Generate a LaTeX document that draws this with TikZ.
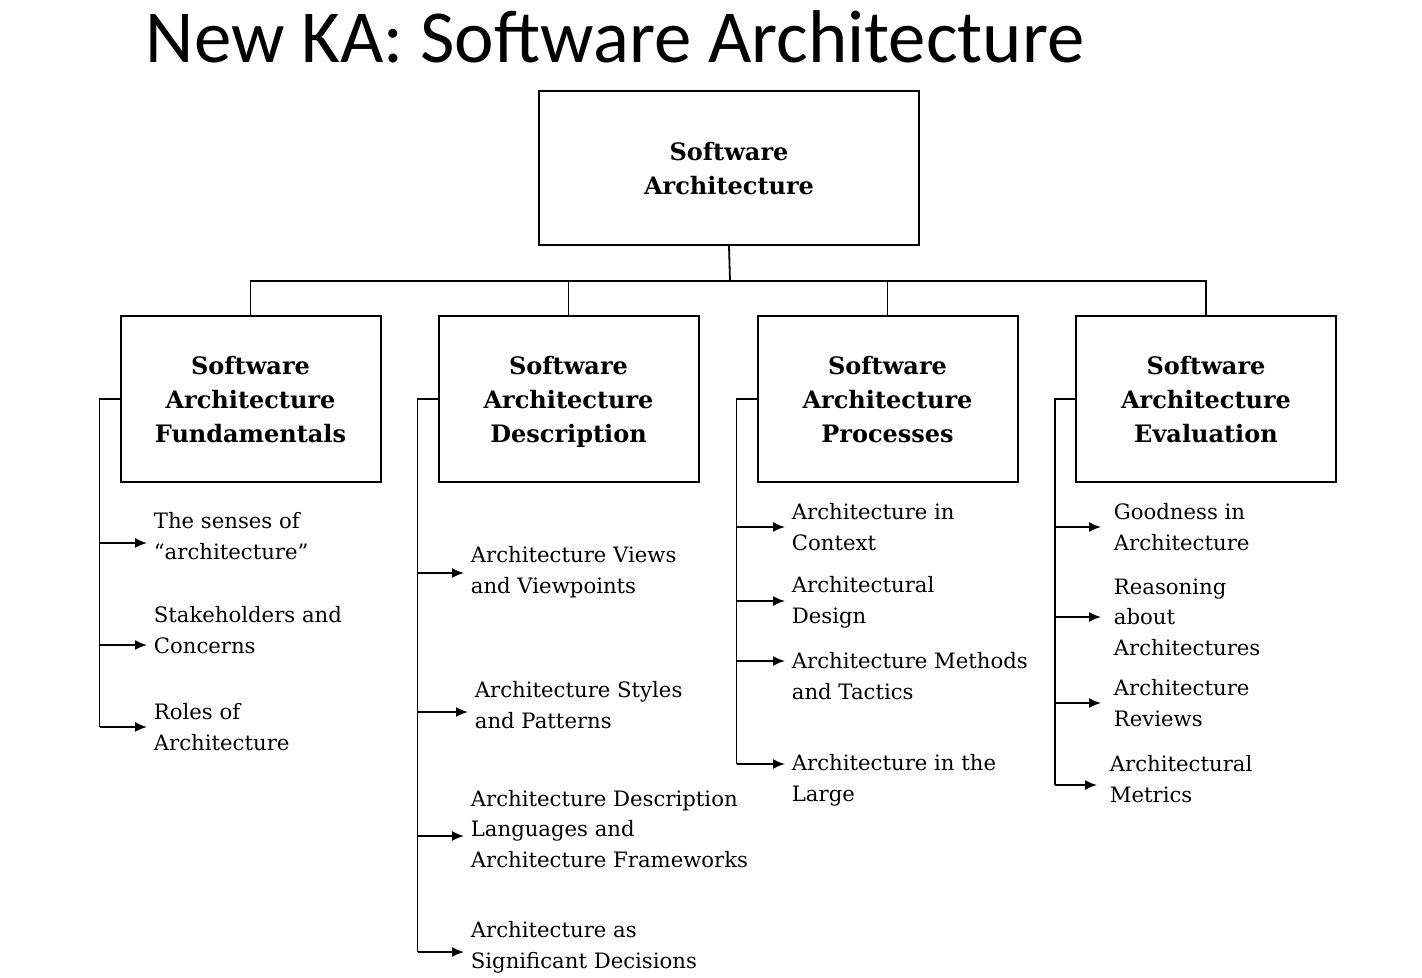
\documentclass[tikz,border=0pt]{standalone}
\usepackage{fontspec}
\setmainfont{DejaVu Serif}
\newfontfamily\titlefont{Carlito}
\usetikzlibrary{arrows.meta}

\tikzset{
	box/.style={draw, line width=1pt, minimum width=130pt, minimum height=83pt, align=center, text depth=0pt, font=\bfseries\fontsize{12}{17}\selectfont},
	item/.style={anchor=west, align=left, inner sep=0pt, font=\fontsize{10.6}{15.3}\selectfont},
	arr/.style={-{Latex[length=6pt,width=5pt]}, line width=0.9pt, shorten >=3pt}
}

\begin{document}
\begin{tikzpicture}[x=0.5pt, y=-0.5pt, line width=0.9pt]
\useasboundingbox (0,0) rectangle (1422,978);
\node[anchor=base west, inner sep=0pt, font=\titlefont\fontsize{37.4}{40}\selectfont] (title) at (145,63) {New KA: Software Architecture};
\node[box, minimum width=190pt, minimum height=77pt] (root) at (729,168) {Software\\Architecture};
\node[box] (b1) at (250.5,399) {Software\\Architecture\\Fundamentals};
\node[box] (b2) at (568.5,399) {Software\\Architecture\\Description};
\node[box] (b3) at (887.5,399) {Software\\Architecture\\Processes};
\node[box] (b4) at (1206,399) {Software\\Architecture\\Evaluation};
% tree lines
\coordinate (bus) at (730,281);
\draw (root.south) -- (bus);
\draw (b1.north) -- (b1.north |- bus) -- (b4.north |- bus) -- (b4.north);
\foreach \b in {b2,b3} \draw (\b.north) -- (\b.north |- bus);
% side bars
\foreach \b/\e in {b1/727,b2/952,b3/764,b4/785}{
	\coordinate (bar\b) at ([xshift=-10pt]\b.west);
	\draw[line join=miter] (\b.west) -- (bar\b) -- (bar\b |- 0,\e);
}
% items
\foreach \n/\tx/\ty/\ay/\txt in {1/153/536/543/{The senses of\\“architecture”}, 2/153/630/645/{Stakeholders and\\Concerns}, 3/153/727/727/{Roles of\\Architecture}}{
	\node[item] (fun\n) at (\tx,\ty) {\txt};
	\draw[arr] (barb1 |- 0,\ay) -- (fun\n.west |- 0,\ay);
}
\foreach \n/\tx/\ty/\ay/\txt in {1/470/572/573/{Architecture Views\\and Viewpoints}, 2/474/705/712/{Architecture Styles\\and Patterns}, 3/470/829/836/{Architecture Description\\Languages and\\Architecture Frameworks}, 4/470/947/952/{Architecture as\\Significant Decisions}}{
	\node[item] (des\n) at (\tx,\ty) {\txt};
	\draw[arr] (barb2 |- 0,\ay) -- (des\n.west |- 0,\ay);
}
\foreach \n/\tx/\ty/\ay/\txt in {1/791/527/527/{Architecture in\\Context}, 2/791/602/601/{Architectural\\Design}, 3/791/676/661/{Architecture Methods\\and Tactics}, 4/791/780/764/{Architecture in the\\Large}}{
	\node[item] (pro\n) at (\tx,\ty) {\txt};
	\draw[arr] (barb3 |- 0,\ay) -- (pro\n.west |- 0,\ay);
}
\foreach \n/\tx/\ty/\ay/\txt in {1/1113/527/527/{Goodness in\\Architecture}, 2/1113/617/617/{Reasoning\\about\\Architectures}, 3/1113/703/703/{Architecture\\Reviews}, 4/1109/779/785/{Architectural\\Metrics}}{
	\node[item] (eva\n) at (\tx,\ty) {\txt};
	\draw[arr] (barb4 |- 0,\ay) -- ([xshift=-3pt]eva\n.west |- 0,\ay);
}
\end{tikzpicture}
\end{document}
